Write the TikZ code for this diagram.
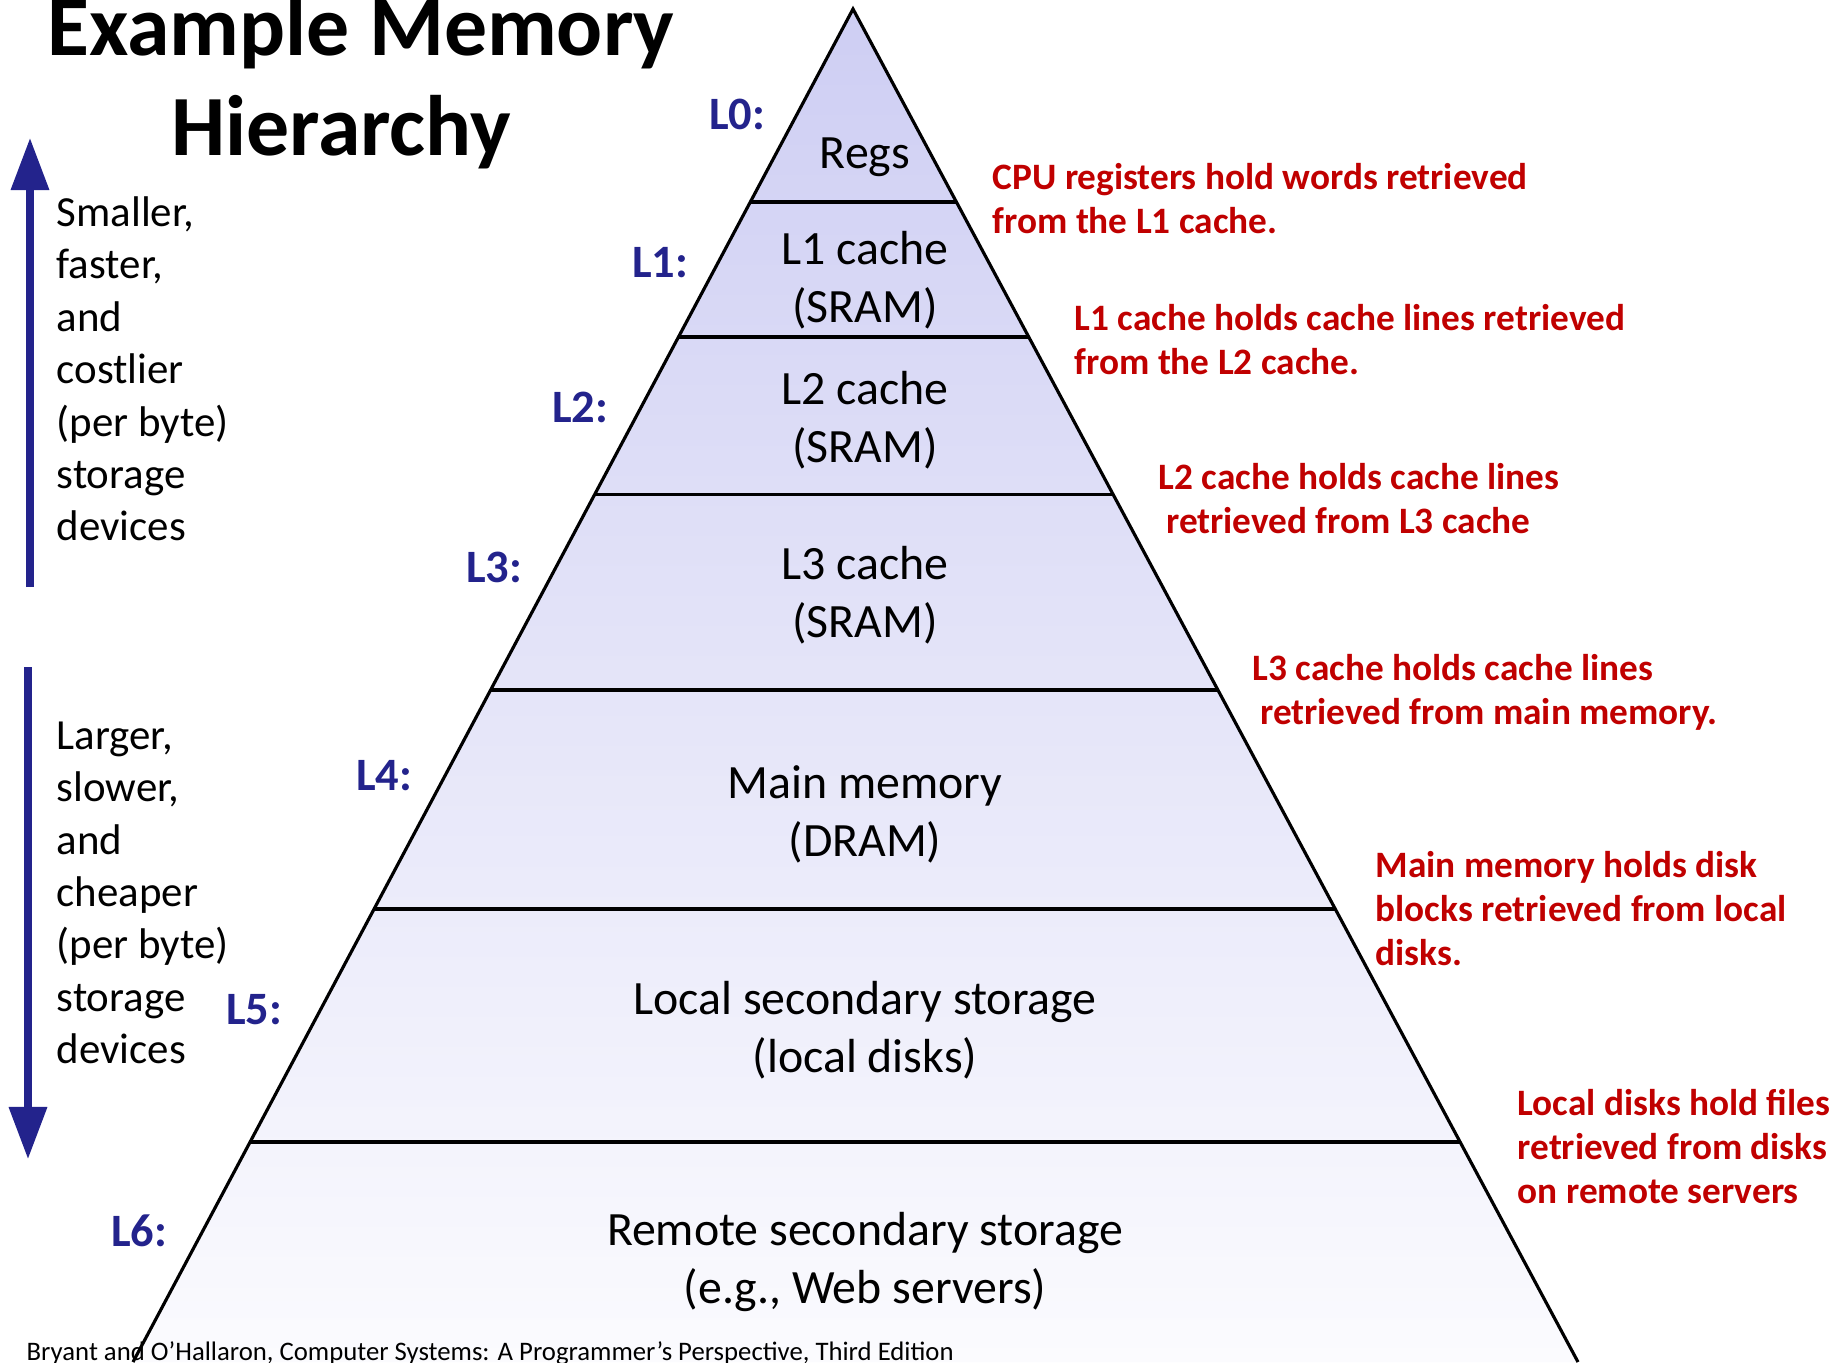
\documentclass[tikz,border=0pt]{standalone}
\usepackage{fontspec}
\setmainfont{Carlito}
\usetikzlibrary{arrows.meta,calc}
\definecolor{navy}{RGB}{35,35,140}
\definecolor{notered}{RGB}{192,0,0}
\definecolor{layertop}{RGB}{206,206,243}
\definecolor{layerbot}{RGB}{251,251,254}
\tikzset{
	layertext/.style={
		align=center,
		font=\fontsize{13.6}{16.4}\selectfont,
		inner sep=0pt},
	levellabel/.style={
		text=navy,
		font=\fontsize{13.2}{16}\selectfont\bfseries,
		anchor=east,
		inner sep=0pt},
	notetext/.style={
		text=notered,
		font=\fontsize{10.6}{12.5}\selectfont\bfseries,
		align=left,
		anchor=north west,
		inner sep=0pt},
	sidetext/.style={
		align=left,
		font=\fontsize{12.2}{14.9}\selectfont,
		anchor=north west,
		inner sep=0pt},
	titletext/.style={
		anchor=base,
		inner sep=0pt,
		font=\fontsize{24.4}{28.5}\selectfont\bfseries},
	sidearrow/.style={draw=navy, fill=navy, line width=2pt, -{Triangle[width=10.5pt, length=14.8pt]}},
	divider/.style={draw, line width=0.9pt},
}

\begin{document}
\begin{tikzpicture}[x=0.01cm, y=-0.01cm]
	\useasboundingbox (0,0) rectangle (1840,1362);
	\clip (0,0) rectangle (1840,1362);

	% pyramid
	\coordinate (apex) at (853,9);
	\coordinate (bl) at (133,1362);
	\coordinate (br) at (1578,1362);
	\shade[top color=layertop, bottom color=layerbot] (apex) -- (bl) -- (br) -- cycle;
	\draw[line width=0.9pt] (bl) -- (apex) -- (br);
	\foreach \t in {0.1426,0.2424,0.3585,0.5033,0.6652,0.8374}
		\draw[divider] ($(apex)!\t!(bl)$) -- ($(apex)!\t!(br)$);

	\node[layertext] (regs) at (865,157) {Regs};
	\node[layertext] (l1) at (865,280) {L1 cache\\(SRAM)};
	\node[layertext] (l2) at (865,420) {L2 cache\\(SRAM)};
	\node[layertext] (l3) at (865,595) {L3 cache\\(SRAM)};
	\node[layertext] (main) at (865,814) {Main memory\\(DRAM)};
	\node[layertext] (local) at (865,1030) {Local secondary storage\\(local disks)};
	\node[layertext] (remote) at (865,1262) {Remote secondary storage\\(e.g., Web servers)};

	\node[levellabel] (lab0) at (766,114) {L0:};
	\node[levellabel] (lab1) at (689,263) {L1:};
	\node[levellabel] (lab2) at (609,407) {L2:};
	\node[levellabel] (lab3) at (523,567) {L3:};
	\node[levellabel] (lab4) at (413,776) {L4:};
	\node[levellabel] (lab5) at (283,1010) {L5:};
	\node[levellabel] (lab6) at (168,1231) {L6:};

	\node[notetext] (note0) at (992,163) {CPU registers hold words retrieved\\from the L1 cache.};
	\node[notetext] (note1) at (1074,304) {L1 cache holds cache lines retrieved\\from the L2 cache.};
	\node[notetext] (note2) at (1158,463) {L2 cache holds cache lines\\\hspace{0.2em}retrieved from L3 cache};
	\node[notetext] (note3) at (1252,654) {L3 cache holds cache lines\\\hspace{0.2em}retrieved from main memory.};
	\node[notetext] (note4) at (1375,851) {Main memory holds disk\\blocks retrieved from local\\disks.};
	\node[notetext] (note5) at (1517,1089) {Local disks hold files\\retrieved from disks\\on remote servers};

	% title and side arrows
	\node[titletext] (title) at (361,55) {Example Memory};
	\node[titletext] (title2) at (341,155) {Hierarchy};

	\coordinate (upbot) at (30,587);
	\coordinate (uptip) at (30,138);
	\draw[sidearrow] (upbot) -- (uptip);
	\node[sidetext] (faster) at (56,196) {Smaller,\\faster,\\and\\costlier\\(per byte)\\storage\\devices};

	\coordinate (downtop) at (28,667);
	\coordinate (downtip) at (28,1159);
	\draw[sidearrow] (downtop) -- (downtip);
	\node[sidetext] (slower) at (56,721) {Larger,\\slower,\\and\\cheaper\\(per byte)\\storage\\devices};

	\node[anchor=base west, inner sep=0pt, font=\fontsize{7.6}{9}\selectfont] (source) at (26,1360) {Bryant and O’Hallaron, Computer Systems: A Programmer’s Perspective, Third Edition};
\end{tikzpicture}
\end{document}
